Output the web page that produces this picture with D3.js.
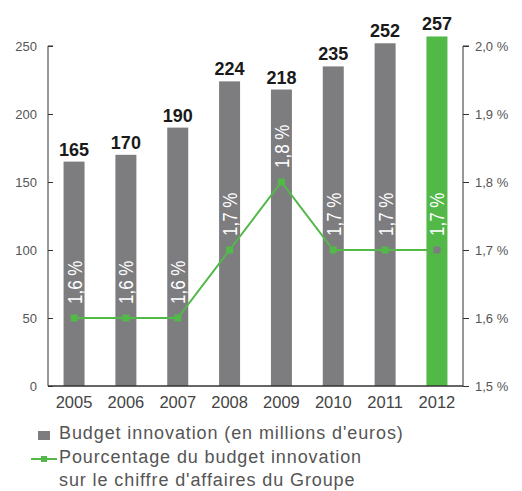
<!DOCTYPE html>
<html>
<head>
<meta charset="utf-8">
<script src="https://cdn.jsdelivr.net/npm/d3@7/dist/d3.min.js"></script>
<style>
  html, body { margin: 0; padding: 0; background: #fff; }
  svg { display: block; }
</style>
</head>
<body>
<svg id="chart" width="522" height="491"></svg>
<script>
// Innovation budget (M€) and its share of group revenue, 2005–2012
const years = ["2005", "2006", "2007", "2008", "2009", "2010", "2011", "2012"];
const budget = [165, 170, 190, 224, 218, 235, 252, 257];
const share = [1.6, 1.6, 1.6, 1.7, 1.8, 1.7, 1.7, 1.7];
const shareLabels = ["1,6 %", "1,6 %", "1,6 %", "1,7 %", "1,8 %", "1,7 %", "1,7 %", "1,7 %"];
const leftTicks = [0, 50, 100, 150, 200, 250];
const rightTicks = [1.5, 1.6, 1.7, 1.8, 1.9, 2.0];
const rightTickLabels = ["1,5 %", "1,6 %", "1,7 %", "1,8 %", "1,9 %", "2,0 %"];
const legendItems = ["Budget innovation (en millions d'euros)",
  "Pourcentage du budget innovation", "sur le chiffre d'affaires du Groupe"];

const GRAY = "#7d7d80";
const GREEN = "#52b848";
const AXIS = "#333";
const sans = "'Liberation Sans', Arial, Helvetica, sans-serif";

const svg = d3.select("#chart");
const x0 = 48, x1 = 463, yTop = 46, yBot = 386;

const x = d3.scaleBand().domain(years).range([x0, x1]).paddingInner(0.595).paddingOuter(0.3);
const y = d3.scaleLinear().domain([0, 250]).range([yBot, yTop]);
const y2 = d3.scaleLinear().domain([1.5, 2.0]).range([yBot, yTop]);
const last = years.length - 1;

// bars
svg.append("g").selectAll("rect").data(years).join("rect")
  .attr("x", d => x(d))
  .attr("width", x.bandwidth())
  .attr("y", (d, i) => y(budget[i]))
  .attr("height", (d, i) => yBot - y(budget[i]))
  .attr("fill", (d, i) => i === last ? GREEN : GRAY);

// left axis
const gl = svg.append("g").attr("transform", `translate(${x0},0)`)
  .call(d3.axisRight(y).tickValues(leftTicks).tickSize(5).tickPadding(0).tickFormat(d3.format("d")));
gl.select(".domain").attr("d", `M5,${yTop}H0V${yBot}`).attr("stroke", AXIS);
gl.selectAll(".tick line").attr("stroke", AXIS);
gl.selectAll(".tick text").attr("x", -11).attr("text-anchor", "end")
  .attr("fill", "#555").attr("font-family", sans).attr("font-size", 13);

// right axis
const gr = svg.append("g").attr("transform", `translate(${x1},0)`)
  .call(d3.axisRight(y2).tickValues(rightTicks).tickSize(6).tickPadding(6)
    .tickFormat((d, i) => rightTickLabels[i]));
gr.select(".domain").attr("d", `M6,${yTop}H0V${yBot}`).attr("stroke", AXIS);
gr.selectAll(".tick line").attr("stroke", AXIS);
gr.selectAll(".tick text").attr("fill", "#555").attr("font-family", sans).attr("font-size", 13);

// bottom axis
const gb = svg.append("g").attr("transform", `translate(0,${yBot})`)
  .call(d3.axisBottom(x).tickSize(0).tickPadding(10));
gb.select(".domain").attr("d", `M${x0},0H${x1}`).attr("stroke", AXIS).attr("stroke-width", 1.5);
gb.selectAll(".tick text").attr("fill", "#444").attr("font-family", sans).attr("font-size", 16.5);

// budget value labels
svg.append("g").selectAll("text").data(years).join("text")
  .attr("x", d => x(d) + x.bandwidth() / 2)
  .attr("y", (d, i) => y(budget[i]) - 6)
  .attr("text-anchor", "middle")
  .attr("font-family", sans).attr("font-size", 18).attr("font-weight", "bold")
  .attr("fill", "#1a1a1a")
  .text((d, i) => budget[i]);

// share line
const line = d3.line().x((d, i) => x(years[i]) + x.bandwidth() / 2).y(d => y2(d));
svg.append("path").datum(share).attr("d", line)
  .attr("fill", "none").attr("stroke", GREEN).attr("stroke-width", 2);
svg.append("g").selectAll("rect").data(share).join("rect")
  .attr("x", (d, i) => x(years[i]) + x.bandwidth() / 2 - 3.5)
  .attr("y", d => y2(d) - 3.5)
  .attr("width", 7).attr("height", 7)
  .attr("fill", (d, i) => i === last ? GRAY : GREEN);

// rotated share labels inside bars (condensed along the reading direction)
svg.append("g").selectAll("text").data(share).join("text")
  .attr("transform", (d, i) =>
    `translate(${x(years[i]) + x.bandwidth() / 2 + 7.5},${y2(d) - 14}) rotate(-90) scale(0.85,1)`)
  .attr("font-family", sans).attr("font-size", 20)
  .attr("fill", "#fff")
  .text((d, i) => shareLabels[i]);

// legend
const lg = svg.append("g").attr("font-family", sans).attr("font-size", 18)
  .attr("letter-spacing", 0.9).attr("fill", "#555");
lg.append("rect").attr("x", 38).attr("y", 431).attr("width", 12).attr("height", 9).attr("fill", GRAY);
lg.append("line").attr("x1", 31).attr("x2", 57).attr("y1", 459).attr("y2", 459)
  .attr("stroke", GREEN).attr("stroke-width", 2);
lg.append("rect").attr("x", 41).attr("y", 456).attr("width", 6).attr("height", 6).attr("fill", GREEN);
lg.selectAll("text").data(legendItems).join("text")
  .attr("x", 59).attr("y", (d, i) => 439 + i * 23.5)
  .text(d => d);
</script>
</body>
</html>
